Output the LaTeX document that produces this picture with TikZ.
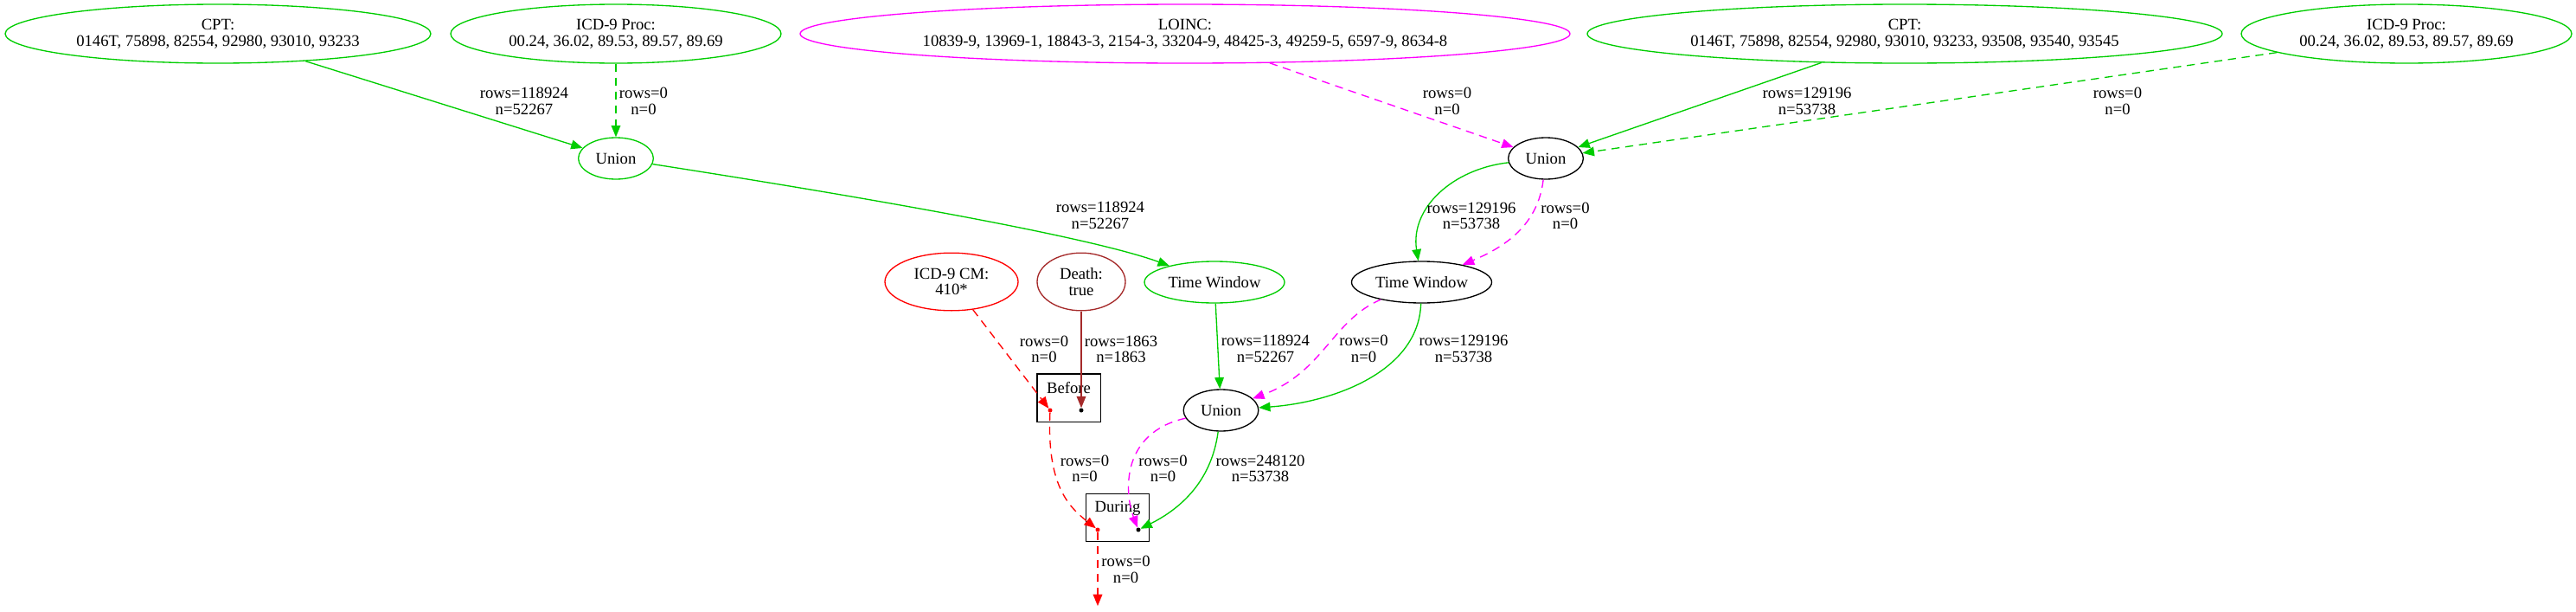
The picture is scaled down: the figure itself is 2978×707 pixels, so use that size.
\documentclass[tikz,border=0pt]{standalone}
\usepackage{fontspec}
\setmainfont{Liberation Serif}
\usetikzlibrary{arrows.meta,shapes.geometric}
\definecolor{gvgreen}{RGB}{0,205,0}
\definecolor{gvbrown}{RGB}{165,42,42}
\definecolor{gvmagenta}{RGB}{255,0,255}
\begin{document}
\begin{tikzpicture}[x=0.75pt,y=-0.75pt,
  every node/.style={font=\fontsize{14}{14}\selectfont,align=center},
  gv/.style={ellipse,draw,line width=1pt,inner sep=0pt,minimum height=36pt},
  opbox/.style={rectangle,draw,line width=1pt,inner sep=0pt,minimum width=55pt,minimum height=41.5pt},
  port/.style={circle,inner sep=0pt,minimum size=3.75pt},
  flow/.style={line width=1pt,-{Triangle[length=10pt,width=8pt]}},
  gvdash/.style={dash pattern=on 7pt off 5pt},
  lbl/.style={inner sep=0pt}]
\useasboundingbox (0,0) rectangle (2978,707);
\node[gv,draw=gvgreen,minimum width=369pt,minimum height=51pt] (cptA) at (252,39) {CPT:\\0146T, 75898, 82554, 92980, 93010, 93233};
\node[gv,draw=gvgreen,minimum width=286.5pt,minimum height=51pt] (procA) at (712,39) {ICD-9 Proc:\\00.24, 36.02, 89.53, 89.57, 89.69};
\node[gv,draw=gvgreen,minimum width=65pt] (unionA) at (712,183) {Union};
\node[gv,draw=gvmagenta,minimum width=667.5pt,minimum height=51pt] (loinc) at (1370,39) {LOINC:\\10839-9, 13969-1, 18843-3, 2154-3, 33204-9, 48425-3, 49259-5, 6597-9, 8634-8};
\node[gv,draw=gvgreen,minimum width=550.5pt,minimum height=51pt] (cptB) at (2202,39) {CPT:\\0146T, 75898, 82554, 92980, 93010, 93233, 93508, 93540, 93545};
\node[gv,draw=gvgreen,minimum width=286.5pt,minimum height=51pt] (procB) at (2782,39) {ICD-9 Proc:\\00.24, 36.02, 89.53, 89.57, 89.69};
\node[gv,draw=black,minimum width=65pt] (unionB) at (1787,183) {Union};
\node[gv,draw=gvgreen,minimum width=121.5pt] (twA) at (1404,326) {Time Window};
\node[gv,draw=black,minimum width=121.5pt] (twB) at (1643.5,326) {Time Window};
\node[gv,draw=black,minimum width=65pt] (unionC) at (1411.5,474) {Union};
\node[gv,draw=red,minimum width=115.5pt,minimum height=50pt] (icdcm) at (1100,325.5) {ICD-9 CM:\\410*};
\node[gv,draw=gvbrown,minimum width=76.5pt,minimum height=50pt] (death) at (1250,325.5) {Death:\\true};
\node[opbox] (before) at (1235.5,459.5) {};
\node[anchor=base] (beforetxt) at (1235.5,454) {Before};
\node[port,fill=red] (beforeL) at (1214,474) {};
\node[port,fill=black] (beforeR) at (1250,474) {};
\node[opbox] (during) at (1292,598) {};
\node[anchor=base] (duringtxt) at (1292,591) {During};
\node[port,fill=red] (duringL) at (1269,612) {};
\node[port,fill=black] (duringR) at (1316,612) {};
\coordinate (sink) at (1269,700);
\draw[flow,gvgreen] (cptA) -- (unionA);
\draw[flow,gvgreen,gvdash] (procA) -- (unionA);
\draw[flow,gvgreen] (unionA) .. controls (950,220) and (1250,270) .. (twA);
\draw[flow,gvmagenta,gvdash] (loinc) -- (unionB);
\draw[flow,gvgreen] (cptB) -- (unionB);
\draw[flow,gvgreen,gvdash] (procB) -- (unionB);
\draw[flow,gvgreen] (unionB) .. controls (1680,195) and (1630,240) .. (twB);
\draw[flow,gvmagenta,gvdash] (unionB) .. controls (1778,260) and (1740,285) .. (twB);
\draw[flow,gvmagenta,gvdash] (twB) .. controls (1540,370) and (1530,430) .. (unionC);
\draw[flow,gvgreen] (twB) .. controls (1640,430) and (1540,465) .. (unionC);
\draw[flow,gvgreen] (twA) -- (unionC);
\draw[flow,red,gvdash] (icdcm) -- (beforeL);
\draw[flow,gvbrown] (death) -- (beforeR);
\draw[flow,red,gvdash] (beforeL) .. controls (1210,560) and (1235,585) .. (duringL);
\draw[flow,gvmagenta,gvdash] (unionC) .. controls (1295,500) and (1300,570) .. (duringR);
\draw[flow,gvgreen] (unionC) .. controls (1400,560) and (1360,590) .. (duringR);
\draw[flow,red,gvdash] (duringL) -- (sink);
\node[lbl] (lcptA) at (606,117) {rows=118924\\n=52267};
\node[lbl] (lprocA) at (744,117) {rows=0\\n=0};
\node[lbl] (lunionA) at (1272,249) {rows=118924\\n=52267};
\node[lbl] (lloinc) at (1673,117) {rows=0\\n=0};
\node[lbl] (lcptB) at (2089,117) {rows=129196\\n=53738};
\node[lbl] (lprocB) at (2448,117) {rows=0\\n=0};
\node[lbl] (lunionBg) at (1701,249.5) {rows=129196\\n=53738};
\node[lbl] (lunionBm) at (1809.5,249.5) {rows=0\\n=0};
\node[lbl] (ltwBm) at (1576.5,403) {rows=0\\n=0};
\node[lbl] (ltwBg) at (1692,403) {rows=129196\\n=53738};
\node[lbl] (ltwA) at (1463,403) {rows=118924\\n=52267};
\node[lbl] (licdcm) at (1207,403.5) {rows=0\\n=0};
\node[lbl] (ldeath) at (1296,403.5) {rows=1863\\n=1863};
\node[lbl] (lbefore) at (1254,541.5) {rows=0\\n=0};
\node[lbl] (lunionCm) at (1344.5,541.5) {rows=0\\n=0};
\node[lbl] (lunionCg) at (1457,541.5) {rows=248120\\n=53738};
\node[lbl] (lduring) at (1301.5,658) {rows=0\\n=0};
\end{tikzpicture}
\end{document}
